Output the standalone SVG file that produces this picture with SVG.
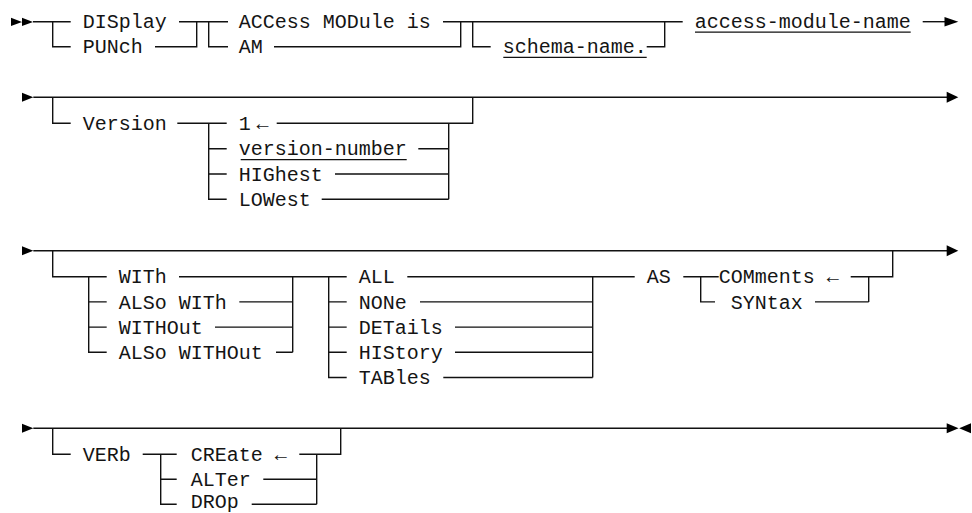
<svg xmlns="http://www.w3.org/2000/svg" width="972" height="513" viewBox="0 0 972 513">
  <style>
    text { font-family: "Liberation Mono", "DejaVu Sans Mono", monospace; font-size: 20px; fill: #141414; }
    .ln { fill: none; stroke: #111; stroke-width: 1.4; }
    .ul { fill: none; stroke: #111; stroke-width: 1.3; }
    .ah { fill: #000; stroke: none; }
  </style>
  <rect width="972" height="513" fill="#fff"/>

  <!-- connectors: railroad tracks, branch bars and arrowheads -->
  <g id="connectors">
    <!-- line 1 -->
    <path class="ah" d="M11 17.7 L22 21.9 L11 26.1 Z M22 17.7 L33 21.9 L22 26.1 Z"/>
    <path class="ln" d="M33 21.7 H70.7 M52.7 21.7 V46.7 H70.7"/>
    <path class="ln" d="M179 21.7 H228 M155 46.7 H196.7 V21.7 M208.7 21.7 V46.7 H228"/>
    <path class="ln" d="M443 21.7 H682.7 M274 46.7 H460.7 V21.7 M472.7 21.7 V46.7 H490.7 M646.7 46.7 H664.7 V21.7"/>
    <path class="ln" d="M922.7 21.7 H946"/>
    <path class="ah" d="M944.5 16.9 L958.3 21.7 L944.5 26.5 Z"/>

    <!-- line 2 -->
    <path class="ah" d="M22 92.8 L33.3 97.3 L22 101.8 Z"/>
    <path class="ln" d="M33.3 97.3 H947"/>
    <path class="ah" d="M946.7 91.8 L958.3 97.3 L946.7 102.8 Z"/>
    <path class="ln" d="M52.7 97.3 V123.3 H70.7"/>
    <path class="ln" d="M177.3 123.3 H226.7 M208.7 123.3 V199.3 H226.7 M208.7 148.7 H226.7 M208.7 174 H226.7"/>
    <path class="ln" d="M276.7 123.3 H472.7 V97.3 M448.7 123.3 V199.3 M418.3 148.7 H448.7 M335 174 H448.7 M321.7 199.3 H448.7"/>

    <!-- line 3 -->
    <path class="ah" d="M22 246.2 L33.3 250.7 L22 255.2 Z"/>
    <path class="ln" d="M33.3 250.7 H947"/>
    <path class="ah" d="M946.7 245.2 L958.3 250.7 L946.7 256.2 Z"/>
    <path class="ln" d="M52.7 250.7 V276.7 H106.7 M88.7 276.7 V352.3 H106.7 M88.7 301.9 H106.7 M88.7 327.1 H106.7"/>
    <path class="ln" d="M179 276.7 H346.7 M292.7 276.7 V352.3 M239.3 301.9 H292.7 M215 327.1 H292.7 M276 352.3 H292.7"/>
    <path class="ln" d="M328.7 276.7 V377.5 H346.7 M328.7 301.9 H346.7 M328.7 327.1 H346.7 M328.7 352.3 H346.7"/>
    <path class="ln" d="M407.3 276.7 H634.7 M592.7 276.7 V377.5 M420 301.9 H592.7 M455 327.1 H592.7 M455 352.3 H592.7 M443.3 377.5 H592.7"/>
    <path class="ln" d="M683.3 276.7 H718.7 M700.7 276.7 V301.9 H715"/>
    <path class="ln" d="M850.7 276.7 H892.7 V250.7 M868.7 276.7 V301.9 M815 301.9 H868.7"/>

    <!-- line 4 -->
    <path class="ah" d="M22 423.8 L33.3 428.3 L22 432.8 Z"/>
    <path class="ln" d="M33.3 428.3 H947"/>
    <path class="ah" d="M946.7 423.3 L958.6 428.3 L946.7 433.3 Z M971 423.3 L959.2 428.3 L971 433.3 Z"/>
    <path class="ln" d="M52.7 428.3 V454.3 H70.7"/>
    <path class="ln" d="M142.7 454.3 H176.7 M160.7 454.3 V504.3 H176.7 M160.7 479.3 H176.7"/>
    <path class="ln" d="M299.3 454.3 H340.7 V428.3 M316.7 454.3 V504.3 M263.3 479.3 H316.7 M251.7 504.3 H316.7"/>
  </g>

  <!-- line 1 keywords -->
  <g id="display"><text x="82.7" y="28.4">DISplay</text></g>
  <g id="punch"><text x="82.7" y="53.4">PUNch</text></g>
  <g id="access-module-is"><text x="238.7" y="28.4">ACCess MODule is</text></g>
  <g id="am"><text x="238.7" y="53.4">AM</text></g>
  <g id="schema-name"><text x="502.7" y="53.4">schema-name.</text><path class="ul" d="M503.3 57.4 H646.7"/></g>
  <g id="access-module-name"><text x="694.7" y="28.4">access-module-name</text><path class="ul" d="M695 32.2 H910.7"/></g>

  <!-- line 2 keywords -->
  <g id="version"><text x="82.7" y="130">Version</text></g>
  <g id="version-default"><text x="238.7" y="130">1</text><text x="256.5" y="130">←</text></g>
  <g id="version-number"><text x="238.7" y="155.4">version-number</text><path class="ul" d="M240.7 159.7 H406.7"/></g>
  <g id="highest"><text x="238.7" y="180.7">HIGhest</text></g>
  <g id="lowest"><text x="238.7" y="206">LOWest</text></g>

  <!-- line 3 keywords -->
  <g id="with"><text x="118.7" y="283.4">WITh</text></g>
  <g id="also-with"><text x="118.7" y="308.6">ALSo WITh</text></g>
  <g id="without"><text x="118.7" y="333.8">WITHOut</text></g>
  <g id="also-without"><text x="118.7" y="359">ALSo WITHOut</text></g>
  <g id="all"><text x="358.7" y="283.4">ALL</text></g>
  <g id="none"><text x="358.7" y="308.6">NONe</text></g>
  <g id="details"><text x="358.7" y="333.8">DETails</text></g>
  <g id="history"><text x="358.7" y="359">HIStory</text></g>
  <g id="tables"><text x="358.7" y="384.2">TABles</text></g>
  <g id="as"><text x="646.7" y="283.4">AS</text></g>
  <g id="comments"><text x="718.7" y="283.4">COMments ←</text></g>
  <g id="syntax"><text x="730.7" y="308.6">SYNtax</text></g>

  <!-- line 4 keywords -->
  <g id="verb"><text x="82.7" y="461">VERb</text></g>
  <g id="create"><text x="190.7" y="461">CREate ←</text></g>
  <g id="alter"><text x="190.7" y="486">ALTer</text></g>
  <g id="drop"><text x="190.7" y="507.5">DROp</text></g>
</svg>
